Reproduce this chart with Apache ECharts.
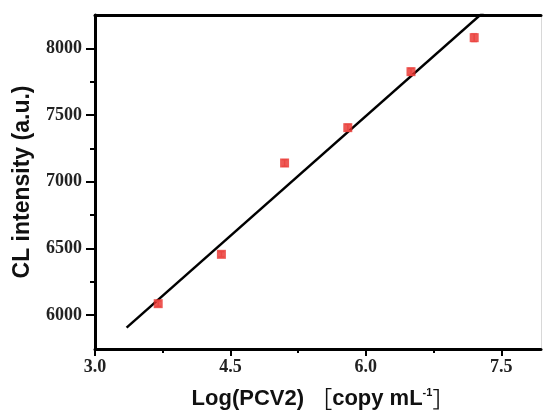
<!DOCTYPE html>
<html><head><meta charset="utf-8">
<script src="https://cdn.jsdelivr.net/npm/echarts@6/dist/echarts.min.js"></script>
<style>html,body{margin:0;padding:0;background:#fff}#c{width:544px;height:411px}</style>
</head><body><div id="c"></div>
<script>
var xValues = [3.7, 4.4, 5.1, 5.8, 6.5, 7.2];
var yValues = [6085, 6455, 7140, 7405, 7825, 8080];
var yErrors = [20, 20, 25, 25, 25, 30];
var fitLine = [[3.35, 5905], [7.35, 8300]];
var xTicks = [3.0, 4.5, 6.0, 7.5];
var xMinorTicks = [3.75, 5.25, 6.75];
var yTicks = [6000, 6500, 7000, 7500, 8000];
var yMinorTicks = [6250, 6750, 7250, 7750];

var chart = echarts.init(document.getElementById('c'));
var serif = '"Liberation Serif", "DejaVu Serif", serif';
var sans = '"Liberation Sans", Arial, "Noto Sans CJK SC", sans-serif';
chart.setOption({
  animation: false,
  grid: {left: 95, top: 15, bottom: 62, right: 3, containLabel: false, outerBoundsMode: 'none'},
  xAxis: [{
    type: 'value', min: 3.0, max: 7.94, position: 'bottom',
    axisLine: {show: true, lineStyle: {color: '#000', width: 3}},
    axisTick: {show: true, customValues: xTicks, length: 7, lineStyle: {color: '#000', width: 2}},
    axisLabel: {customValues: xTicks, formatter: function(v){return v.toFixed(1);}, color: '#222', fontFamily: serif, fontWeight: 'bold', fontSize: 18, margin: 9},
    splitLine: {show: false},
    name: '{a|Log(PCV2) }{b|［}{a|copy mL}{s|-1}{b|］}',
    nameLocation: 'middle', nameGap: 38,
    nameTextStyle: {padding: [0, 0, 0, 10], rich: {
      a: {fontFamily: sans, fontWeight: 'bold', fontSize: 22, lineHeight: 24, color: '#111'},
      b: {fontFamily: '"Noto Sans CJK SC", sans-serif', fontWeight: 'normal', fontSize: 22, lineHeight: 24, color: '#111'},
      s: {fontFamily: sans, fontWeight: 'bold', fontSize: 11, lineHeight: 24, color: '#111', verticalAlign: 'top', padding: [0,0,12,0]}
    }}
  }, {
    type: 'value', min: 3.0, max: 7.94, position: 'bottom',
    axisLine: {show: false},
    axisTick: {show: true, customValues: xMinorTicks, length: 4, lineStyle: {color: '#000', width: 2}},
    axisLabel: {show: false}, splitLine: {show: false}
  }, {
    type: 'value', min: 3.0, max: 7.94, position: 'top',
    axisLine: {show: true, lineStyle: {color: '#000', width: 3}},
    axisTick: {show: false}, axisLabel: {show: false}, splitLine: {show: false}
  }],
  yAxis: [{
    type: 'value', min: 5745, max: 8250, position: 'left',
    axisLine: {show: true, lineStyle: {color: '#000', width: 3}},
    axisTick: {show: true, customValues: yTicks, length: 9, lineStyle: {color: '#000', width: 2}},
    axisLabel: {customValues: yTicks, formatter: function(v){return String(v);}, color: '#222', fontFamily: serif, fontWeight: 'bold', fontSize: 18, margin: 13},
    splitLine: {show: false},
    name: 'CL intensity (a.u.)', nameLocation: 'middle', nameGap: 61,
    nameTextStyle: {fontFamily: sans, fontWeight: 'bold', fontSize: 23, color: '#111'}
  }, {
    type: 'value', min: 5745, max: 8250, position: 'left',
    axisLine: {show: false},
    axisTick: {show: true, customValues: yMinorTicks, length: 5, lineStyle: {color: '#000', width: 2}},
    axisLabel: {show: false}, splitLine: {show: false}
  }, {
    type: 'value', min: 5745, max: 8250, position: 'right',
    axisLine: {show: true, lineStyle: {color: '#d8d8d8', width: 1}},
    axisTick: {show: false}, axisLabel: {show: false}, splitLine: {show: false}
  }],
  series: [{
    type: 'line', data: fitLine, symbol: 'none', clip: true,
    lineStyle: {color: '#000', width: 2.5}, z: 2
  }, {
    type: 'custom', z: 3,
    data: xValues.map(function(x, i){ return [x, yValues[i] - yErrors[i], yValues[i] + yErrors[i]]; }),
    renderItem: function(params, api){
      var lo = api.coord([api.value(0), api.value(1)]);
      var hi = api.coord([api.value(0), api.value(2)]);
      return {type: 'group', children: [
        {type: 'line', shape: {x1: lo[0], y1: lo[1], x2: hi[0], y2: hi[1]}, style: {stroke: '#f4a0a0', lineWidth: 1.5}},
        {type: 'line', shape: {x1: lo[0]-3, y1: lo[1], x2: lo[0]+3, y2: lo[1]}, style: {stroke: '#f4a0a0', lineWidth: 1.5}},
        {type: 'line', shape: {x1: hi[0]-3, y1: hi[1], x2: hi[0]+3, y2: hi[1]}, style: {stroke: '#f4a0a0', lineWidth: 1.5}}
      ]};
    }
  }, {
    type: 'scatter', z: 4,
    data: xValues.map(function(x, i){ return [x, yValues[i]]; }),
    symbol: 'rect', symbolSize: 9,
    itemStyle: {color: '#e8302a'}
  }]
});
</script></body></html>
